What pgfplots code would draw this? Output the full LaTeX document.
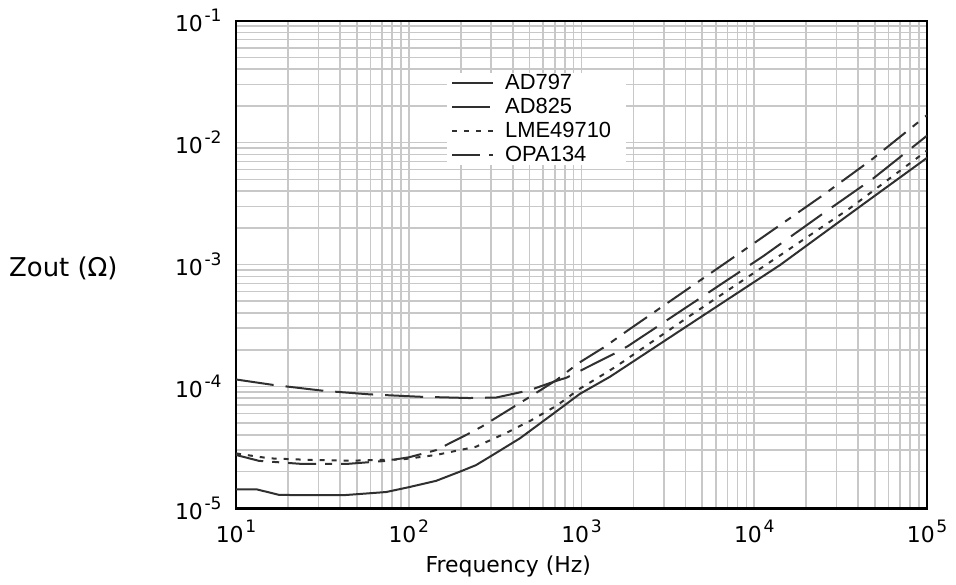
\documentclass[border=0pt]{standalone}
\usepackage{fontspec}
\setmainfont{DejaVu Sans}
\newfontfamily\legfont{Liberation Sans}
\usepackage{pgfplots}
\usepackage{pgfplotstable}
\pgfplotsset{compat=1.18}

\definecolor{curve}{HTML}{303030}
\definecolor{gridgray}{HTML}{C8C8C8}

% tick label: 10 with a raised exponent
\newcommand{\pow}[1]{10\kern0.8bp\raisebox{5bp}{\fontsize{8.6}{9}\selectfont #1}}

% output impedance (f in Hz, Zout in ohm)
\pgfplotstableread{
f z
10 1.43e-5
13.2 1.43e-5
17.7 1.29e-5
25 1.28e-5
41.5 1.28e-5
74 1.36e-5
100 1.49e-5
144 1.68e-5
198 2.0e-5
245 2.26e-5
295 2.65e-5
440 3.75e-5
684 5.95e-5
980 8.7e-5
1462 1.2e-4
4850 3.67e-4
14100 9.9e-4
42800 3.13e-3
100000 7.5e-3
}\adseven

\pgfplotstableread{
f z
10 1.14e-4
16.3 1.03e-4
31.8 9.22e-5
59 8.61e-5
115 8.23e-5
224 8.03e-5
320 8.1e-5
430 8.87e-5
503 9.33e-5
687 1.09e-4
820 1.18e-4
959 1.32e-4
1600 1.9e-4
1866 2.15e-4
11270 1.17e-3
25100 2.63e-3
48900 5.09e-3
100000 1.14e-2
}\adeight

\pgfplotstableread{
f z
10 2.82e-5
15.6 2.57e-5
27.8 2.49e-5
47 2.46e-5
92 2.52e-5
144 2.74e-5
245 3.2e-5
369 4.17e-5
515 5.3e-5
718 6.95e-5
980 9.6e-5
1370 1.28e-4
1600 1.47e-4
4250 3.8e-4
13500 1.14e-3
35700 2.89e-3
100000 8.6e-3
}\lme

\pgfplotstableread{
f z
10 2.74e-5
13.6 2.45e-5
24.3 2.31e-5
43.3 2.31e-5
74 2.45e-5
100 2.62e-5
144 3.0e-5
224 4.12e-5
264 4.67e-5
503 8.22e-5
718 1.13e-4
959 1.55e-4
1368 2.12e-4
1866 2.9e-4
9660 1.45e-3
25100 3.72e-3
48900 7.43e-3
100000 1.68e-2
}\opa

\begin{document}
\begin{tikzpicture}
\useasboundingbox (-118bp,-38.35bp) rectangle (360bp,254.15bp);
\begin{axis}[
    xmode=log, ymode=log,
    log basis x=10, log basis y=10,
    scale only axis,
    width=345.5bp, height=243.8bp,
    xmin=10, xmax=1e5,
    ymin=1e-5, ymax=1e-1,
    grid=both,
    major grid style={draw=gridgray, line width=0.8bp},
    minor grid style={draw=gridgray, line width=0.8bp},
    axis line style={line width=1.2bp},
    major tick length=0pt, minor tick length=0pt,
    tick label style={font=\fontsize{11}{12}\selectfont, inner sep=0pt},
    xticklabel={\pgfmathtruncatemacro{\e}{round(\tick)}\pow{\e}},
    yticklabel={\pgfmathtruncatemacro{\e}{round(\tick)}\pow{\e}},
    xticklabel shift=5.5bp,
    yticklabel shift=7bp,
    xlabel={Frequency (Hz)},
    ylabel={Zout (Ω)},
    xlabel style={font=\fontsize{11}{13}\selectfont,
        at={(rel axis cs:0.394,0)}, anchor=base, yshift=-32bp},
    ylabel style={font=\fontsize{13}{15}\selectfont, inner sep=0pt,
        rotate=-90, at={(rel axis cs:-0.1708,0.493)}, anchor=east},
    every axis plot/.append style={line width=1bp, color=curve, mark=none},
    legend image code/.code={\draw[#1] (0bp,0bp) -- (20.5bp,0bp);},
    legend cell align=left,
    legend style={at={(rel axis cs:0.305,0.893)}, anchor=north west,
        draw=none, fill=white, font=\legfont\fontsize{11}{13}\selectfont,
        inner xsep=2bp, inner ysep=0bp, row sep=2bp, column sep=0bp,
        nodes={inner ysep=0pt, inner xsep=5.5bp, text height=8bp, text depth=2bp}},
]
\addplot[solid] table[x=f, y=z] {\adseven};
\addplot[dash pattern=on 19bp off 6bp] table[x=f, y=z] {\adeight};
\addplot[dash pattern=on 2.5bp off 3.5bp] table[x=f, y=z] {\lme};
\addplot[dash pattern=on 14bp off 4.5bp on 3.5bp off 4.5bp] table[x=f, y=z] {\opa};
\legend{AD797, AD825, LME49710, OPA134}
\end{axis}
\end{tikzpicture}
\end{document}
